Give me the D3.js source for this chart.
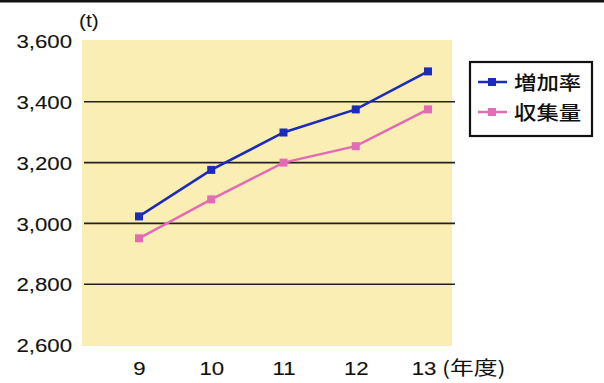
<!DOCTYPE html>
<html><head><meta charset="utf-8">
<script src="https://cdn.jsdelivr.net/npm/d3@7"></script>
<style>
html,body{margin:0;padding:0;background:#fff;}
svg{display:block;}
</style></head>
<body>
<svg id="chart" width="604" height="383"></svg>
<script>
const years = ["9","10","11","12","13"];
const seriesNames = ["増加率","収集量"];
const increaseRate = [3023, 3176, 3299, 3375, 3500];
const collected = [2951, 3079, 3200, 3254, 3375];
const yTicks = [2600, 2800, 3000, 3200, 3400, 3600];
const gridValues = [2800, 3000, 3200, 3400];
const colors = ["#1a2bbd", "#e36bb6"];

const svg = d3.select("#chart");
const fontLatin = "'Liberation Sans', Arial, sans-serif";
const fontCJK = "'Noto Sans CJK JP', sans-serif";
const stretch = "scale(1.2,1)";

// top border line
svg.append("rect").attr("x",0).attr("y",0).attr("width",604).attr("height",2.5).attr("fill","#111");

const x = d3.scalePoint().domain(years).range([139, 428]);
const y = d3.scaleLinear().domain([2600, 3600]).range([345, 41]);

// plot background
svg.append("rect").attr("x",82).attr("y",40).attr("width",370).attr("height",306).attr("fill","#fbeeb5");

// gridlines
svg.append("g").selectAll("line").data(gridValues).join("line")
  .attr("x1",84).attr("x2",455)
  .attr("y1",d=>y(d)).attr("y2",d=>y(d))
  .attr("stroke","#222").attr("stroke-width",1.6);

// y axis labels
const yAxis = d3.axisLeft(y).tickValues(yTicks).tickFormat(d3.format(",")).tickSize(0).tickPadding(0);
const yg = svg.append("g").attr("transform","translate(72,0)").call(yAxis);
yg.select(".domain").remove();
yg.selectAll("text").attr("font-family",fontLatin).attr("font-size","18.5px").attr("fill","#111")
  .attr("stroke","#111").attr("stroke-width",0.12)
  .attr("dy","0.36em").attr("transform",stretch);

// x axis labels
const xAxis = d3.axisBottom(x).tickSize(0).tickPadding(0);
const xg = svg.append("g").attr("transform","translate(0,362)").call(xAxis);
xg.select(".domain").remove();
xg.selectAll("text").attr("font-family",fontLatin).attr("font-size","18.5px").attr("fill","#111")
  .attr("stroke","#111").attr("stroke-width",0.12)
  .attr("dy","0.71em").attr("transform",stretch);
xg.selectAll(".tick").filter(d=>d==="13").attr("transform",`translate(${x("13")-4},0)`);

// unit labels
svg.append("text").attr("transform","translate(79,27) scale(1.1,1)")
  .attr("font-family",fontLatin).attr("font-size","19px").attr("fill","#111").text("(t)");
svg.append("text").attr("transform","translate(442,375) scale(1.25,1)")
  .attr("font-family",fontCJK).attr("font-size","19px").attr("fill","#111").text("(年度)");

// lines
const allSeries = [increaseRate, collected];
const line = d3.line().x((d,i)=>x(years[i])).y(d=>y(d));
allSeries.forEach((s,k)=>{
  svg.append("path").datum(s).attr("d",line).attr("fill","none").attr("stroke",colors[k]).attr("stroke-width",2.5);
  svg.append("g").selectAll("rect").data(s).join("rect")
    .attr("x",(d,i)=>x(years[i])-4).attr("y",d=>y(d)-4)
    .attr("width",8).attr("height",8).attr("fill",colors[k]);
});

// legend
const lg = svg.append("g");
lg.append("rect").attr("x",470).attr("y",62).attr("width",122).attr("height",74)
  .attr("fill","#fff").attr("stroke","#111").attr("stroke-width",2.2);
seriesNames.forEach((n,k)=>{
  const ly = 82 + k*30;
  lg.append("line").attr("x1",478).attr("x2",507).attr("y1",ly).attr("y2",ly).attr("stroke",colors[k]).attr("stroke-width",2.5);
  lg.append("rect").attr("x",488).attr("y",ly-4).attr("width",8).attr("height",8).attr("fill",colors[k]);
  lg.append("text").attr("transform",`translate(514,${ly+1}) scale(1.15,1)`).attr("dy","0.36em").attr("font-family",fontCJK)
    .attr("font-weight",500).attr("font-size","19.5px").attr("fill","#111").text(n);
});
</script>
</body></html>
